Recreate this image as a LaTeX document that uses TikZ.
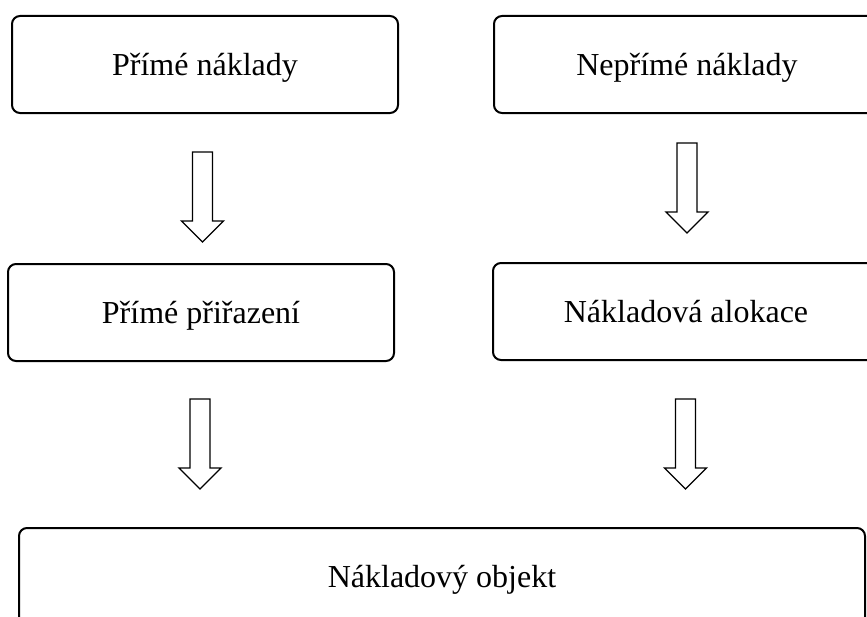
\documentclass[tikz,border=0pt]{standalone}
\usepackage{fontspec}
\setmainfont{Liberation Serif}

\tikzset{
  box/.style={draw, line width=1.5pt, rounded corners=6pt, inner sep=0pt,
    minimum width=289.5pt, minimum height=72.75pt,
    text height=16.5pt, text depth=0pt,
    font=\fontsize{24}{28}\selectfont},
  pics/downarrow/.style={code={
    \draw[line width=1pt, line join=miter]
      (-10,0) -- (10,0) -- (10,69) -- (21,69) -- (0,90)
      -- (-21,69) -- (-10,69) -- cycle;
  }}
}

\begin{document}
\begin{tikzpicture}[x=0.75pt, y=-0.75pt, line cap=round, line join=round]

% Frame
\clip (0,0) rectangle (867,617);

% Top row
\node[box] (PN) at (205,64.5) {Přímé náklady};
\node[box] (NN) at (687,64.5) {Nepřímé náklady};

% Middle row
\node[box] (PP) at (201,312.5) {Přímé přiřazení};
\node[box] (NA) at (686,311.5) {Nákladová alokace};

% Bottom
\node[box, minimum width=634.5pt] (NO) at (442,576.5) {Nákladový objekt};

% Block arrows
\pic at (202.5,152) {downarrow};
\pic at (687,143) {downarrow};
\pic at (200,399) {downarrow};
\pic at (685.5,399) {downarrow};

\end{tikzpicture}
\end{document}
